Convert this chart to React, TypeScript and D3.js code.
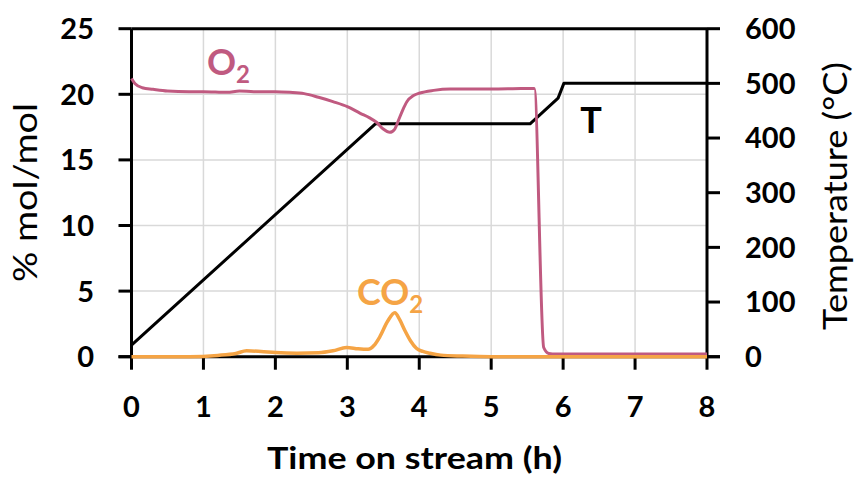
import React from "react";
import * as d3 from "d3";

// Reactor temperature programme (right axis, °C)
const tempHours = [0, 3.39, 5.54, 5.93, 6.01, 8];
const tempC = [21, 426, 426, 473, 500, 500];

// O2 concentration (left axis, % mol/mol)
const o2Hours = [0, 0.05, 0.15, 0.3, 0.5, 0.8, 1.0, 1.33, 1.5, 1.7, 2.0, 2.2, 2.4, 2.6, 2.8, 3.0, 3.18, 3.31, 3.41, 3.5, 3.59, 3.66, 3.71, 3.77, 3.83, 3.92, 4.01, 4.2, 4.43, 5.0, 5.3, 5.6, 5.73, 5.8, 5.9, 6.5, 7, 8];
const o2Pct = [21.2, 20.8, 20.5, 20.38, 20.25, 20.2, 20.2, 20.15, 20.25, 20.2, 20.2, 20.15, 20.05, 19.77, 19.44, 19.06, 18.55, 18.2, 17.85, 17.35, 17.1, 17.35, 18.0, 18.8, 19.45, 19.9, 20.1, 20.3, 20.4, 20.4, 20.42, 20.45, 0.7, 0.25, 0.2, 0.2, 0.2, 0.2];

// CO2 concentration (left axis, % mol/mol)
const co2Hours = [0, 0.8, 1.2, 1.45, 1.6, 1.8, 2.0, 2.3, 2.6, 2.8, 2.99, 3.15, 3.29, 3.37, 3.45, 3.56, 3.66, 3.73, 3.8, 3.88, 3.96, 4.05, 4.15, 4.3, 4.6, 5, 8];
const co2Pct = [0, 0, 0.1, 0.25, 0.45, 0.4, 0.32, 0.27, 0.3, 0.45, 0.7, 0.6, 0.56, 0.85, 1.5, 2.7, 3.35, 2.8, 2.0, 1.2, 0.64, 0.4, 0.26, 0.12, 0.05, 0, 0];

const xTicks = [0, 1, 2, 3, 4, 5, 6, 7, 8];
const leftTicks = [0, 5, 10, 15, 20, 25];
const rightTicks = [0, 100, 200, 300, 400, 500, 600];

const W = 856;
const H = 479;
const plot = { left: 131.5, right: 707, top: 28.7, bottom: 356.7 };

const FONT = "Lato, 'Open Sans', sans-serif";
const PINK = "#c05a80";
const ORANGE = "#f5a445";
const GRID = "#d9d9d9";

export default function App() {
  const x = d3.scaleLinear().domain([0, 8]).range([plot.left, plot.right]);
  const yL = d3.scaleLinear().domain([0, 25]).range([plot.bottom, plot.top]);
  const yR = d3.scaleLinear().domain([0, 600]).range([plot.bottom, plot.top]);

  const tempLine = d3
    .line<number>()
    .x((_, i) => x(tempHours[i]))
    .y((d) => yR(d))(tempC);
  const o2Line = d3
    .line<number>()
    .x((_, i) => x(o2Hours[i]))
    .y((d) => yL(d))
    .curve(d3.curveMonotoneX)(o2Pct);
  const co2Line = d3
    .line<number>()
    .x((_, i) => x(co2Hours[i]))
    .y((d) => yL(d))
    .curve(d3.curveMonotoneX)(co2Pct);

  const tick = 13;
  const axisW = 3;

  return (
    <svg
      width={W}
      height={H}
      style={{ position: "absolute", left: 0, top: 0, background: "#fff" }}
      fontFamily={FONT}
    >
      {/* gridlines */}
      {xTicks.slice(1, -1).map((t) => (
        <line key={"gx" + t} x1={x(t)} x2={x(t)} y1={plot.top} y2={plot.bottom} stroke={GRID} strokeWidth={1.5} />
      ))}
      {leftTicks.slice(1, -1).map((t) => (
        <line key={"gy" + t} x1={plot.left} x2={plot.right} y1={yL(t)} y2={yL(t)} stroke={GRID} strokeWidth={1.5} />
      ))}

      {/* axes and frame */}
      <line x1={plot.left} x2={plot.right} y1={plot.top} y2={plot.top} stroke="#000" strokeWidth={axisW} />
      <line x1={plot.left} x2={plot.left} y1={plot.top} y2={plot.bottom} stroke="#000" strokeWidth={axisW} />
      <line x1={plot.right} x2={plot.right} y1={plot.top} y2={plot.bottom} stroke="#000" strokeWidth={axisW} />
      <line x1={plot.left - tick} x2={plot.right + tick} y1={plot.bottom} y2={plot.bottom} stroke="#000" strokeWidth={axisW} />

      {leftTicks.map((t) => (
        <g key={"lt" + t}>
          <line x1={plot.left - tick} x2={plot.left} y1={yL(t)} y2={yL(t)} stroke="#000" strokeWidth={axisW} />
          <text x={94} y={yL(t)} dy="0.36em" textAnchor="end" fontSize={29} fontWeight={700}>
            {t}
          </text>
        </g>
      ))}
      {rightTicks.map((t) => (
        <g key={"rt" + t}>
          <line x1={plot.right} x2={plot.right + tick} y1={yR(t)} y2={yR(t)} stroke="#000" strokeWidth={axisW} />
          <text x={745} y={yR(t)} dy="0.36em" textAnchor="start" fontSize={29} fontWeight={700}>
            {t}
          </text>
        </g>
      ))}
      {xTicks.map((t) => (
        <g key={"xt" + t}>
          <line x1={x(t)} x2={x(t)} y1={plot.bottom} y2={plot.bottom + tick} stroke="#000" strokeWidth={axisW} />
          <text x={x(t)} y={417} textAnchor="middle" fontSize={29} fontWeight={700}>
            {t}
          </text>
        </g>
      ))}

      {/* series */}
      <path d={tempLine ?? ""} fill="none" stroke="#000" strokeWidth={3} strokeLinejoin="round" />
      <path d={o2Line ?? ""} fill="none" stroke={PINK} strokeWidth={3} strokeLinejoin="round" />
      <path d={co2Line ?? ""} fill="none" stroke={ORANGE} strokeWidth={3.5} strokeLinejoin="round" />

      {/* series labels */}
      <text x={207} y={75} fill={PINK} fontSize={36} fontWeight={700}>
        O<tspan fontSize={24} dy={8}>2</tspan>
      </text>
      <text x={357} y={305} fill={ORANGE} fontSize={36} fontWeight={700}>
        CO<tspan fontSize={24} dy={8}>2</tspan>
      </text>
      <text x={591} y={133} textAnchor="middle" fontSize={36} fontWeight={700}>
        T
      </text>

      {/* axis titles */}
      <text
        x={267}
        y={469}
        fontSize={30}
        fontWeight={700}
        textLength={295}
        lengthAdjust="spacingAndGlyphs"
      >
        Time on stream (h)
      </text>
      <text
        transform={`translate(37, 282) rotate(-90)`}
        fontSize={32}
        textLength={179}
        lengthAdjust="spacingAndGlyphs"
      >
        % mol/mol
      </text>
      <text
        transform={`translate(847, 330) rotate(-90)`}
        fontSize={32}
        textLength={268}
        lengthAdjust="spacingAndGlyphs"
      >
        Temperature (°C)
      </text>
    </svg>
  );
}
